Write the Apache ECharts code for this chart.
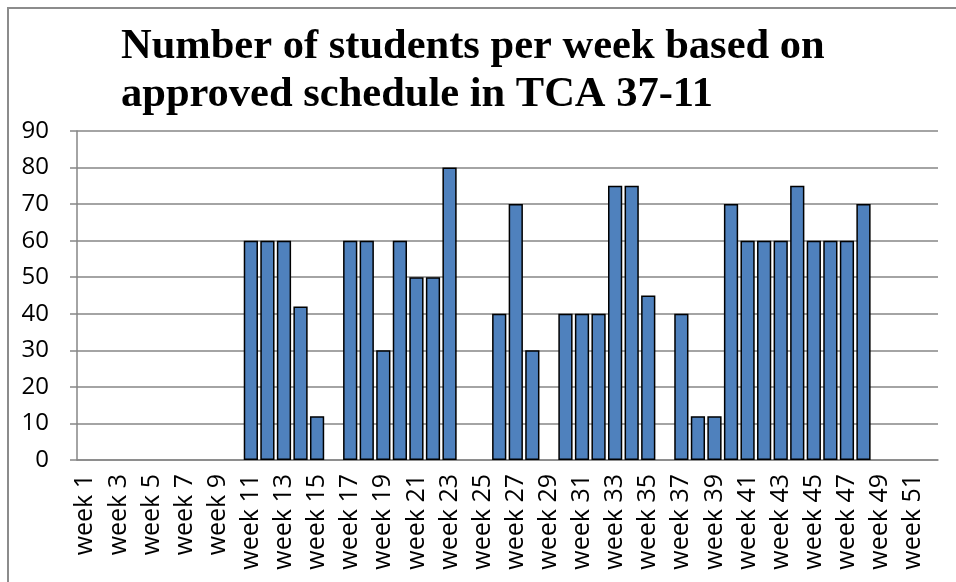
<!DOCTYPE html>
<html>
<head>
  <meta charset="utf-8">
  <title>Number of students per week</title>
  <script src="https://cdn.jsdelivr.net/npm/echarts@6/dist/echarts.min.js"></script>
  <style>
    html, body { margin: 0; padding: 0; background: #fff; }
    #chart { width: 956px; height: 582px; }
  </style>
</head>
<body>
  <div id="chart"></div>
  <script>
    // week labels on the x axis
    var weeks = [
      'week 1', 'week 2', 'week 3', 'week 4', 'week 5', 'week 6', 'week 7', 'week 8', 'week 9', 'week 10',
      'week 11', 'week 12', 'week 13', 'week 14', 'week 15', 'week 16', 'week 17', 'week 18', 'week 19', 'week 20',
      'week 21', 'week 22', 'week 23', 'week 24', 'week 25', 'week 26', 'week 27', 'week 28', 'week 29', 'week 30',
      'week 31', 'week 32', 'week 33', 'week 34', 'week 35', 'week 36', 'week 37', 'week 38', 'week 39', 'week 40',
      'week 41', 'week 42', 'week 43', 'week 44', 'week 45', 'week 46', 'week 47', 'week 48', 'week 49', 'week 50',
      'week 51', 'week 52'
    ];

    // students per week
    var students = [
      0, 0, 0, 0, 0, 0, 0, 0, 0, 0,
      60, 60, 60, 42, 12, 0, 60, 60, 30, 60,
      50, 50, 80, 0, 0, 40, 70, 30, 0, 40,
      40, 40, 75, 75, 45, 0, 40, 12, 12, 70,
      60, 60, 60, 75, 60, 60, 60, 70, 0, 0,
      0, 0
    ];

    var yMax = 90;
    var yStep = 10;

    var gridGrey = '#868686';
    var barBlue = '#4F81BD';

    // empty weeks get no outline, otherwise the border shows as a line on the axis
    var barData = students.map(function (v) {
      return v === 0 ? { value: v, itemStyle: { borderWidth: 0 } } : v;
    });

    var chart = echarts.init(document.getElementById('chart'));
    chart.setOption({
      animation: false,
      title: {
        text: 'Number of students per week based on\napproved schedule in TCA 37-11',
        left: 116,
        top: 18,
        textStyle: {
          fontFamily: '"Liberation Serif", "Times New Roman", serif',
          fontWeight: 'bold',
          fontSize: 42.5,
          lineHeight: 48,
          color: '#000'
        }
      },
      // partial frame of the original chart area (top and left edges only)
      graphic: [{
        type: 'rect',
        shape: { x: 8, y: 8, width: 1200, height: 1200 },
        style: { fill: 'none', stroke: '#8c8c8c', lineWidth: 2 },
        silent: true
      }],
      grid: { left: 77, right: 18, top: 131, bottom: 122 },
      xAxis: {
        type: 'category',
        data: weeks,
        boundaryGap: true,
        axisLine: { lineStyle: { color: gridGrey, width: 1.5 } },
        axisTick: { interval: 0, length: 7, lineStyle: { color: gridGrey, width: 1.5 } },
        axisLabel: {
          interval: 1,
          rotate: 90,
          margin: 14,
          color: '#000',
          fontFamily: '"Open Sans", sans-serif',
          fontSize: 25
        }
      },
      yAxis: {
        type: 'value',
        min: 0,
        max: yMax,
        interval: yStep,
        axisLine: { show: true, lineStyle: { color: gridGrey, width: 1.5 } },
        axisTick: { show: true, length: 7, lineStyle: { color: gridGrey, width: 1.5 } },
        splitLine: { lineStyle: { color: gridGrey, width: 1.5 } },
        axisLabel: {
          margin: 28,
          color: '#000',
          fontFamily: '"Open Sans", sans-serif',
          fontSize: 24
        }
      },
      series: [{
        name: 'Students',
        type: 'bar',
        data: barData,
        barCategoryGap: '14%',
        itemStyle: { color: barBlue, borderColor: '#000', borderWidth: 1.5 }
      }]
    });
  </script>
</body>
</html>
